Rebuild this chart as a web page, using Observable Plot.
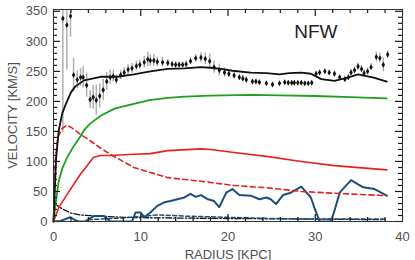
<!DOCTYPE html>
<html>
<head>
<meta charset="utf-8">
<script src="https://cdn.jsdelivr.net/npm/d3@7"></script>
<script src="https://cdn.jsdelivr.net/npm/@observablehq/plot@0.6"></script>
<style>
  html, body { margin: 0; padding: 0; background: #fff; }
  #chart { width: 415px; height: 260px; }
</style>
</head>
<body>
<div id="chart"></div>
<script>
// Observed rotation curve: radius (kpc), velocity (km/s), error (km/s)
const obsR = [1.07,1.53,1.95,2.3,2.72,3.1,3.4,3.8,4.2,4.55,4.9,5.3,5.7,6.1,6.5,6.85,7.2,7.7,8.1,8.55,9.0,9.5,9.9,10.4,10.8,11.1,11.5,11.9,12.5,13.1,13.6,14.0,14.4,14.8,15.2,15.7,16.3,16.9,17.4,17.9,18.4,19.0,19.6,20.1,20.7,21.3,21.7,22.1,22.8,23.2,23.6,24.4,25.1,25.9,26.5,26.9,27.3,27.6,28.0,28.4,28.8,29.2,29.6,30.1,30.5,31.1,31.6,32.2,32.8,33.4,33.8,34.1,34.5,34.9,35.3,35.6,36.0,36.4,37.0,37.4,37.8,38.3];
const obsV = [338,327,342,244,236,240,240,227,203,207,202,209,219,233,240,242,236,244,248,253,255,259,261,265,270,268,268,266,265,264,262,261,261,261,262,267,272,273,271,267,257,252,248,246,243,240,238,236,233,233,232,230,228,230,232,231,231,231,231,231,230,230,231,246,248,250,248,246,240,237,240,248,252,258,254,247,250,257,274,272,261,278];
const obsE = [190,75,35,28,15,15,18,20,15,20,25,20,18,15,12,10,8,8,8,8,8,8,8,10,12,10,10,8,8,6,5,5,5,5,5,6,6,8,10,12,10,10,8,6,5,5,5,5,4,4,4,4,4,4,3,3,3,3,3,3,3,3,3,4,4,4,4,4,4,4,5,5,5,6,6,6,6,6,8,8,12,6];

// Model components
const totalR = [0,0.3,0.6,1.0,1.4,2.0,2.5,3.5,5.4,7.3,9.2,11.1,13.1,15,16.9,18,19.2,20.5,22.6,24.4,25.9,27,28.4,29.5,30.7,32.2,33.6,34.9,36.8,38.2];
const totalV = [0,105,152,180,195,215,225,235,241,241,245,250,254,255,257,256,254,251,248,247,245,247,248,246,237,234,239,245,239,233];

const haloR = [0,0.23,0.61,1.0,1.57,2.3,3.1,3.5,4.2,5.4,7,9.2,11,13.1,15,18,22.6,26,30,34,38.2];
const haloV = [0,29,68,88,107,125,142,152,163,176,188,196,202,206,208,209.5,211,210,209,207,205];

const diskR = [0,0.6,1.6,3.1,4.6,5.4,6.5,9.2,11.1,13.1,16.9,18,20.7,24.6,28.4,32.2,38.2];
const diskV = [0,23,46,79,107,110,110,112,113,118,121,120,115,108,100,93,86];

const bulgeR = [0,0.2,0.5,1.0,1.5,2,3,4.25,5.4,6.5,9.2,13.1,16.9,20.7,24.6,28.4,32.2,38.2];
const bulgeV = [0,100,140,155,160,157,146,134,122,112,90,73,67,60,56,50,47,43];

const gasR = [0,0.8,1.95,2.5,2.9,3.6,4.6,5.8,6.5,9.0,9.4,10,10.4,11.1,11.9,12.7,13.4,14.2,15,15.7,16.3,16.9,17.7,18.4,19,19.8,20.5,21.3,22.6,23.6,24.4,24.9,25.5,26.3,27.2,28.4,29,29.5,29.9,30.5,31.8,32.2,32.8,34.1,35.5,36.8,38.2];
const gasV = [0,1,7,2,0,0,9,9,0,0,15,15,7,15,26,32,34,37,40,46,41,44,37,34,24,48,54,44,43,37,40,37,29,44,48,58,48,40,23,0,0,18,48,69,57,54,43];

const gas2R = [4,8,12,15,20,25,30,38];
const gas2V = [3,6,11,9,7,5,4,4];

const starR = [0,0.4,1,2,3,5,8,12,20,30,38];
const starV = [30,27,21,14,11,9,7,6,5,4,3];

const xTicks = [0,10,20,30,40];
const xMinor = [2,4,6,8,12,14,16,18,22,24,26,28,32,34,36,38];
const yTicks = [0,50,100,150,200,250,300,350];
const yMinor = [10,20,30,40,60,70,80,90,110,120,130,140,160,170,180,190,210,220,230,240,260,270,280,290,310,320,330,340];
const labelText = ["NFW"];

const zip = (R, V) => R.map((r, i) => ({r, v: V[i]}));
const obs = obsR.map((r, i) => ({r, v: obsV[i], e: obsE[i]}));

const W = 415, H = 260, mL = 53, mR = 13, mT = 9, mB = 39;
const xDom = [0, 40], yDom = [0, 353];
const pw = W - mL - mR, ph = H - mT - mB;
// tick lengths expressed in data units of each scale
const xu = px => px * (xDom[1] - xDom[0]) / pw;
const yu = px => px * (yDom[1] - yDom[0]) / ph;
const font = "'Liberation Sans', Arial, sans-serif";
const tk = "#1a1a1a";
const minorLen = 4, majorLen = 7;

const chart = Plot.plot({
  width: W, height: H,
  marginLeft: mL, marginRight: mR, marginTop: mT, marginBottom: mB,
  style: {background: "#fff", fontFamily: font, fontSize: "13px", color: "#505050"},
  x: {domain: xDom},
  y: {domain: yDom},
  marks: [
    Plot.ruleX(obs, {x: "r", y1: d => d.v - d.e, y2: d => d.v + d.e, stroke: "#b0b0b0", strokeWidth: 1.5, clip: true}),
    Plot.line(zip(starR, starV), {x: "r", y: "v", stroke: "#111", strokeWidth: 1.3, strokeDasharray: "6,2,1.5,2"}),
    Plot.line(zip(gas2R, gas2V), {x: "r", y: "v", stroke: "#1d4e79", strokeWidth: 1.5, strokeDasharray: "4,2.5"}),
    Plot.line(zip(gasR, gasV), {x: "r", y: "v", stroke: "#1d4e79", strokeWidth: 2, clip: true}),
    Plot.line(zip(bulgeR, bulgeV), {x: "r", y: "v", stroke: "#e8201e", strokeWidth: 1.6, strokeDasharray: "5,3.5"}),
    Plot.line(zip(diskR, diskV), {x: "r", y: "v", stroke: "#e8201e", strokeWidth: 1.6}),
    Plot.line(zip(haloR, haloV), {x: "r", y: "v", stroke: "#1ea01e", strokeWidth: 1.8}),
    Plot.line(zip(totalR, totalV), {x: "r", y: "v", stroke: "#111", strokeWidth: 1.8}),
    Plot.dot(obs, {x: "r", y: "v", symbol: "diamond", r: 1.8, fill: "#111", stroke: "none", clip: true}),
    // inward ticks on all four sides
    Plot.ruleY(yMinor, {y: d => d, x1: xDom[0], x2: xDom[0] + xu(minorLen), stroke: tk, strokeWidth: 1.2}),
    Plot.ruleY(yTicks, {y: d => d, x1: xDom[0], x2: xDom[0] + xu(majorLen), stroke: tk, strokeWidth: 1.2}),
    Plot.ruleY(yMinor, {y: d => d, x1: xDom[1] - xu(minorLen), x2: xDom[1], stroke: tk, strokeWidth: 1.2}),
    Plot.ruleY(yTicks, {y: d => d, x1: xDom[1] - xu(majorLen), x2: xDom[1], stroke: tk, strokeWidth: 1.2}),
    Plot.ruleX(xMinor, {x: d => d, y1: yDom[0], y2: yDom[0] + yu(minorLen), stroke: tk, strokeWidth: 1.2}),
    Plot.ruleX(xTicks, {x: d => d, y1: yDom[0], y2: yDom[0] + yu(majorLen), stroke: tk, strokeWidth: 1.2}),
    Plot.ruleX(xMinor, {x: d => d, y1: yDom[1] - yu(minorLen), y2: yDom[1], stroke: tk, strokeWidth: 1.2}),
    Plot.ruleX(xTicks, {x: d => d, y1: yDom[1] - yu(majorLen), y2: yDom[1], stroke: tk, strokeWidth: 1.2}),
    Plot.frame({stroke: "#333"}),
    Plot.axisY({ticks: yTicks, tickSize: 0, tickPadding: 6, label: "VELOCITY [KM/S]", labelAnchor: "center", labelArrow: "none", labelOffset: 46, fill: "#505050"}),
    Plot.axisX({ticks: xTicks, tickSize: 0, tickPadding: 10, label: "RADIUS [KPC]", labelAnchor: "center", labelArrow: "none", labelOffset: 37, fill: "#505050"}),
    Plot.text(labelText, {text: d => d, frameAnchor: "top-right", textAnchor: "end", lineAnchor: "top", dx: -65, dy: 15, fontSize: 19, fill: "#222"})
  ]
});
document.getElementById("chart").appendChild(chart);
</script>
</body>
</html>
